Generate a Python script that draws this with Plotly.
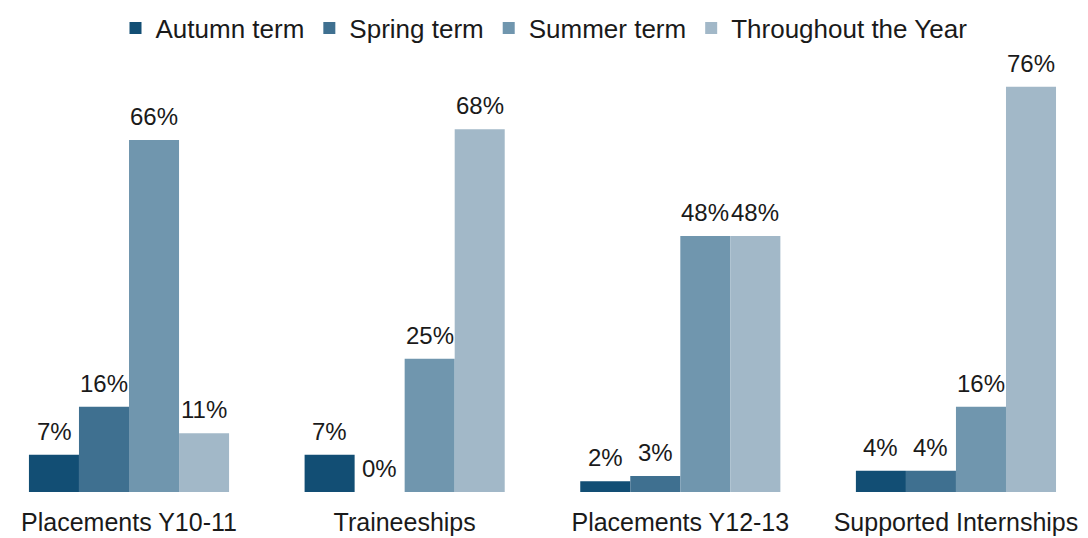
import plotly.graph_objects as go

categories = ["Placements Y10-11", "Traineeships", "Placements Y12-13", "Supported Internships"]
series_names = ["Autumn term", "Spring term", "Summer term", "Throughout the Year"]
autumn = [7, 7, 2, 4]
spring = [16, 0, 3, 4]
summer = [66, 25, 48, 16]
throughout = [11, 68, 48, 76]
colors = ["#124E74", "#3F7090", "#7096AE", "#A2B8C8"]

all_series = [autumn, spring, summer, throughout]
bar_px = 50  # bar width in pixels, used only to offset labels over grouped bars

fig = go.Figure()
for name, vals, col in zip(series_names, all_series, colors):
    fig.add_trace(go.Bar(
        x=categories, y=vals, name=name, marker_color=col, marker_line_width=0,
    ))

annotations = []
for i, vals in enumerate(all_series):
    for cat, v in zip(categories, vals):
        annotations.append(dict(
            x=cat, y=v, xref="x", yref="y", text=f"{v}%", showarrow=False,
            xanchor="center", yanchor="bottom", xshift=(i - 1.5) * bar_px, yshift=8,
            font=dict(size=24, color="#1a1a1a"),
        ))

fig.update_layout(
    width=1088, height=538,
    barmode="group", bargap=0.274, bargroupgap=0,
    paper_bgcolor="white", plot_bgcolor="white",
    font=dict(family="Liberation Sans, Arial", size=24, color="#1a1a1a"),
    margin=dict(l=0, r=0, t=60, b=46, autoexpand=False),
    legend=dict(orientation="h", x=0.5, xanchor="center", y=1 - 28 / 538, yanchor="middle",
                yref="container", font=dict(size=26), itemwidth=30, tracegroupgap=0),
    xaxis=dict(range=[-0.468, 3.479], showline=False, ticks="", showgrid=False,
               tickfont=dict(size=25), ticklabelstandoff=13, automargin=False),
    yaxis=dict(range=[0, 81], visible=False, showgrid=False),
    annotations=annotations,
)
fig.write_html("out.html", config={"displayModeBar": False},
               post_script="document.body.style.margin='0';")
